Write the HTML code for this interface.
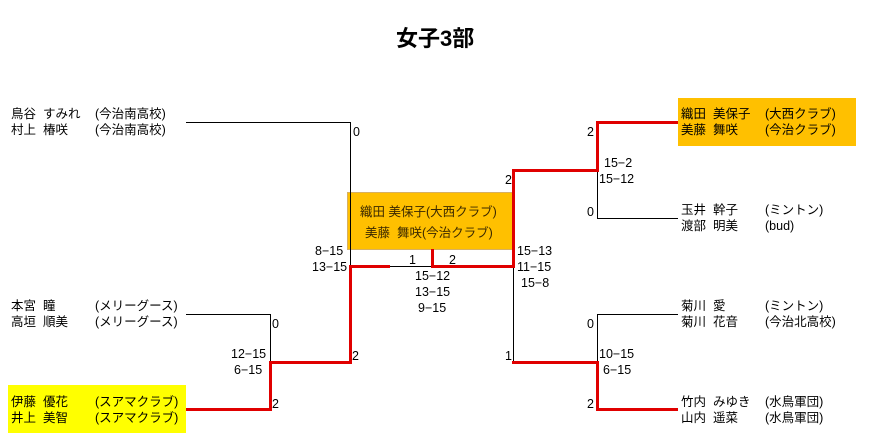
<!DOCTYPE html>
<html><head><meta charset="utf-8"><style>
body{margin:0;width:878px;height:435px;background:#fff;position:relative;overflow:hidden;font-family:"Liberation Sans","Noto Sans CJK JP",sans-serif;font-size:12.5px;color:#000}
.t{position:absolute;white-space:nowrap;line-height:16px}
.b{position:absolute;background:#000}
.r{position:absolute;background:#e00000}
</style></head><body>
<div class="t" style="left:396px;top:25px;font-size:22px;line-height:28px;font-weight:bold">女子3部</div>

<div style="position:absolute;left:678px;top:98px;width:178px;height:48px;background:#ffc000"></div>
<div style="position:absolute;left:8px;top:385px;width:178px;height:48px;background:#ffff00"></div>
<div style="position:absolute;left:347px;top:192px;background:#ffc000;border:1px solid #d8b060;box-sizing:border-box;width:167px;height:58px"></div>

<div class="t" style="left:11px;top:106px">鳥谷&nbsp;&nbsp;すみれ</div><div class="t" style="left:95px;top:106px">(今治南高校)</div>
<div class="t" style="left:11px;top:122px">村上&nbsp;&nbsp;椿咲</div><div class="t" style="left:95px;top:122px">(今治南高校)</div>
<div class="t" style="left:11px;top:298px">本宮&nbsp;&nbsp;瞳</div><div class="t" style="left:95px;top:298px">(メリーグース)</div>
<div class="t" style="left:11px;top:314px">高垣&nbsp;&nbsp;順美</div><div class="t" style="left:95px;top:314px">(メリーグース)</div>
<div class="t" style="left:11px;top:394px">伊藤&nbsp;&nbsp;優花</div><div class="t" style="left:95px;top:394px">(スアマクラブ)</div>
<div class="t" style="left:11px;top:410px">井上&nbsp;&nbsp;美智</div><div class="t" style="left:95px;top:410px">(スアマクラブ)</div>
<div class="t" style="left:681px;top:106px">織田&nbsp;&nbsp;美保子</div><div class="t" style="left:765px;top:106px">(大西クラブ)</div>
<div class="t" style="left:681px;top:122px">美藤&nbsp;&nbsp;舞咲</div><div class="t" style="left:765px;top:122px">(今治クラブ)</div>
<div class="t" style="left:681px;top:202px">玉井&nbsp;&nbsp;幹子</div><div class="t" style="left:765px;top:202px">(ミントン)</div>
<div class="t" style="left:681px;top:218px">渡部&nbsp;&nbsp;明美</div><div class="t" style="left:765px;top:218px">(bud)</div>
<div class="t" style="left:681px;top:298px">菊川&nbsp;&nbsp;愛</div><div class="t" style="left:765px;top:298px">(ミントン)</div>
<div class="t" style="left:681px;top:314px">菊川&nbsp;&nbsp;花音</div><div class="t" style="left:765px;top:314px">(今治北高校)</div>
<div class="t" style="left:681px;top:394px">竹内&nbsp;&nbsp;みゆき</div><div class="t" style="left:765px;top:394px">(水鳥軍団)</div>
<div class="t" style="left:681px;top:410px">山内&nbsp;&nbsp;遥菜</div><div class="t" style="left:765px;top:410px">(水鳥軍団)</div>

<div class="t" style="left:360px;top:204px;color:#3a2800">織田 美保子(大西クラブ)</div>
<div class="t" style="left:365px;top:225px;color:#3a2800">美藤&nbsp;&nbsp;舞咲(今治クラブ)</div>

<div class="b" style="left:186px;top:122px;width:165px;height:1px"></div>
<div class="b" style="left:350px;top:122px;width:1px;height:145px"></div>
<div class="b" style="left:390px;top:266px;width:42px;height:1px"></div>
<div class="b" style="left:186px;top:314px;width:85px;height:1px"></div>
<div class="b" style="left:270px;top:314px;width:1px;height:48px"></div>
<div class="b" style="left:597px;top:170px;width:1px;height:49px"></div>
<div class="b" style="left:597px;top:218px;width:81px;height:1px"></div>
<div class="b" style="left:513px;top:266px;width:1px;height:96px"></div>
<div class="b" style="left:597px;top:314px;width:81px;height:1px"></div>
<div class="b" style="left:597px;top:314px;width:1px;height:48px"></div>

<div class="r" style="left:186px;top:408px;width:86px;height:3px"></div>
<div class="r" style="left:269px;top:361px;width:3px;height:50px"></div>
<div class="r" style="left:269px;top:361px;width:83px;height:3px"></div>
<div class="r" style="left:349px;top:265px;width:3px;height:99px"></div>
<div class="r" style="left:349px;top:265px;width:41px;height:3px"></div>
<div class="r" style="left:431px;top:249px;width:3px;height:19px"></div>
<div class="r" style="left:431px;top:265px;width:84px;height:3px"></div>
<div class="r" style="left:512px;top:169px;width:3px;height:99px"></div>
<div class="r" style="left:512px;top:169px;width:87px;height:3px"></div>
<div class="r" style="left:596px;top:121px;width:3px;height:51px"></div>
<div class="r" style="left:596px;top:121px;width:82px;height:3px"></div>
<div class="r" style="left:512px;top:361px;width:87px;height:3px"></div>
<div class="r" style="left:596px;top:361px;width:3px;height:50px"></div>
<div class="r" style="left:596px;top:408px;width:82px;height:3px"></div>

<div class="t" style="left:353px;top:124px">0</div>
<div class="t" style="left:315px;top:243px">8−15</div>
<div class="t" style="left:312px;top:259px">13−15</div>
<div class="t" style="left:409px;top:252px">1</div>
<div class="t" style="left:449px;top:252px">2</div>
<div class="t" style="left:415px;top:268px">15−12</div>
<div class="t" style="left:415px;top:284px">13−15</div>
<div class="t" style="left:418px;top:300px">9−15</div>
<div class="t" style="left:505px;top:172px">2</div>
<div class="t" style="left:517px;top:243px">15−13</div>
<div class="t" style="left:517px;top:259px">11−15</div>
<div class="t" style="left:521px;top:275px">15−8</div>
<div class="t" style="left:587px;top:124px">2</div>
<div class="t" style="left:604px;top:155px">15−2</div>
<div class="t" style="left:599px;top:171px">15−12</div>
<div class="t" style="left:587px;top:204px">0</div>
<div class="t" style="left:272px;top:316px">0</div>
<div class="t" style="left:231px;top:346px">12−15</div>
<div class="t" style="left:234px;top:362px">6−15</div>
<div class="t" style="left:352px;top:348px">2</div>
<div class="t" style="left:272px;top:396px">2</div>
<div class="t" style="left:505px;top:348px">1</div>
<div class="t" style="left:587px;top:316px">0</div>
<div class="t" style="left:599px;top:346px">10−15</div>
<div class="t" style="left:603px;top:362px">6−15</div>
<div class="t" style="left:587px;top:396px">2</div>
</body></html>
